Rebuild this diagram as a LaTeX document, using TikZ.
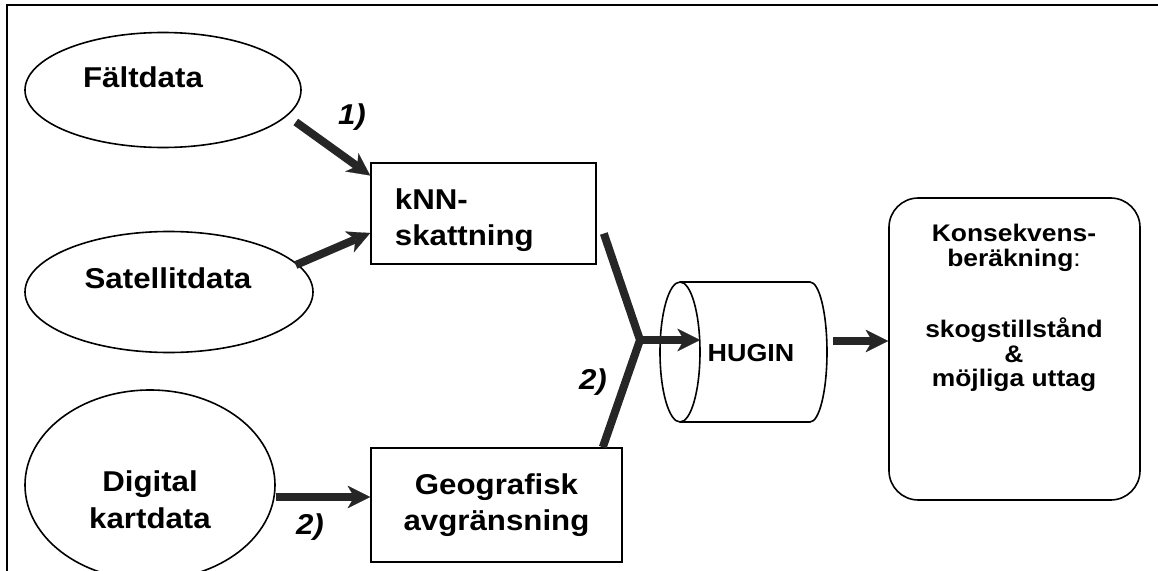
\documentclass[tikz,border=0pt]{standalone}
\usepackage{fontspec}
\setmainfont{Liberation Sans}
\newfontfamily\labelfont[FakeStretch=1.09]{Liberation Sans}
\newfontfamily\konsfont[FakeStretch=1.1]{Liberation Sans}
\usetikzlibrary{shapes.geometric,arrows.meta}

\tikzset{every picture/.style={line width=0.75pt}}
\tikzset{
  blob/.style={draw, ellipse, line width=1.2pt, inner sep=0pt},
  box/.style={draw, rectangle, line width=1.2pt, inner sep=0pt},
  lbl/.style={font=\labelfont\fontsize{21.5}{27.5}\selectfont\bfseries, align=center},
  num/.style={font=\labelfont\fontsize{21.5}{25}\selectfont\bfseries\itshape},
  flow/.style={draw=black!85, line width=6pt, -{Stealth[length=17pt,width=17pt,inset=5pt,line width=0.1pt]}},
  fork/.style={draw=black!85, line width=6pt, line join=round}
}

\begin{document}
\begin{tikzpicture}[x=0.75pt,y=0.75pt,yscale=-1,xscale=1]
	\useasboundingbox (0,0) rectangle (1158,571);

	%Straight Lines: frame
	\draw [line width=1.1pt] (7,571) -- (7,5) -- (1158,5) ;

	%Shape: Ellipse
	\node [blob, minimum width=207pt, minimum height=86.25pt] (falt) at (163,90) {};
	%Shape: Ellipse
	\node [blob, minimum width=216pt, minimum height=90.75pt] (sat) at (169,292) {};
	%Shape: Ellipse
	\node [blob, minimum width=187.5pt, minimum height=142.5pt] (dig) at (150,485) {};
	%Shape: Rectangle
	\node [box, minimum width=168.75pt, minimum height=75.75pt] (knn) at (483.5,213.5) {};
	%Shape: Rectangle
	\node [box, lbl, minimum width=188.25pt, minimum height=85.5pt] (geo) at (496.5,505) {Geografisk\\avgränsning};
	%Shape: Rounded Rect
	\node [box, rounded corners=22pt, minimum width=188.25pt, minimum height=226.5pt] (kons) at (1014.5,349) {};

	%Shape: Can
	\draw [line width=1.2pt] (680,352) ellipse [x radius=20, y radius=70] ;
	\draw [line width=1.2pt] (680,282) -- (810,282) arc [start angle=-90, end angle=90, x radius=17, y radius=70] -- (680,422) ;

	\coordinate (junc) at (640,340) ;
	\coordinate (hfront) at (700,340) ;
	\coordinate (hback) at (833,341) ;

	%Straight Lines
	\draw [flow] ([shift={(-6,32)}]falt.east) -- ([shift={(0,-38)}]knn.west) ;
	\draw [flow] ([shift={(-18,-27)}]sat.east) -- ([shift={(0,19.5)}]knn.west) ;
	\draw [flow] ([shift={(0,12)}]dig.east) -- ([shift={(0,-8)}]geo.west) ;
	\draw [fork] ([shift={(7,20)}]knn.east) -- (junc) -- ([shift={(-20,0)}]geo.north east) ;
	\draw [flow] (junc) -- (hfront) ;
	\draw [flow] (hback) -- (hback -| kons.west) ;

	% Text Node
	\node [lbl] (faltText) at (143,77) {Fältdata};
	% Text Node
	\node [lbl] (satText) at (168,278) {Satellitdata};
	% Text Node
	\node [lbl] (digText) at (150,500) {Digital\\kartdata};
	% Text Node
	\node [lbl, align=left, anchor=west] (knnText) at (390,220) {kNN-\\skattning};
	% Text Node
	\node [font=\labelfont\fontsize{18.5}{20}\selectfont\bfseries] (hugin) at (751,353) {HUGIN};
	% Text Node
	\node [font=\konsfont\fontsize{18}{18.5}\selectfont\bfseries, align=center] (konsText) at (1014,308) {Konsekvens-\\beräkning{\mdseries :}\\[34pt]skogstillstånd\\\&\\möjliga uttag};
	% Text Node
	\node [num] (n1) at (352,117) {1)};
	% Text Node
	\node [num] (n2a) at (593,382) {2)};
	% Text Node
	\node [num] (n2b) at (310,527) {2)};

\end{tikzpicture}
\end{document}
